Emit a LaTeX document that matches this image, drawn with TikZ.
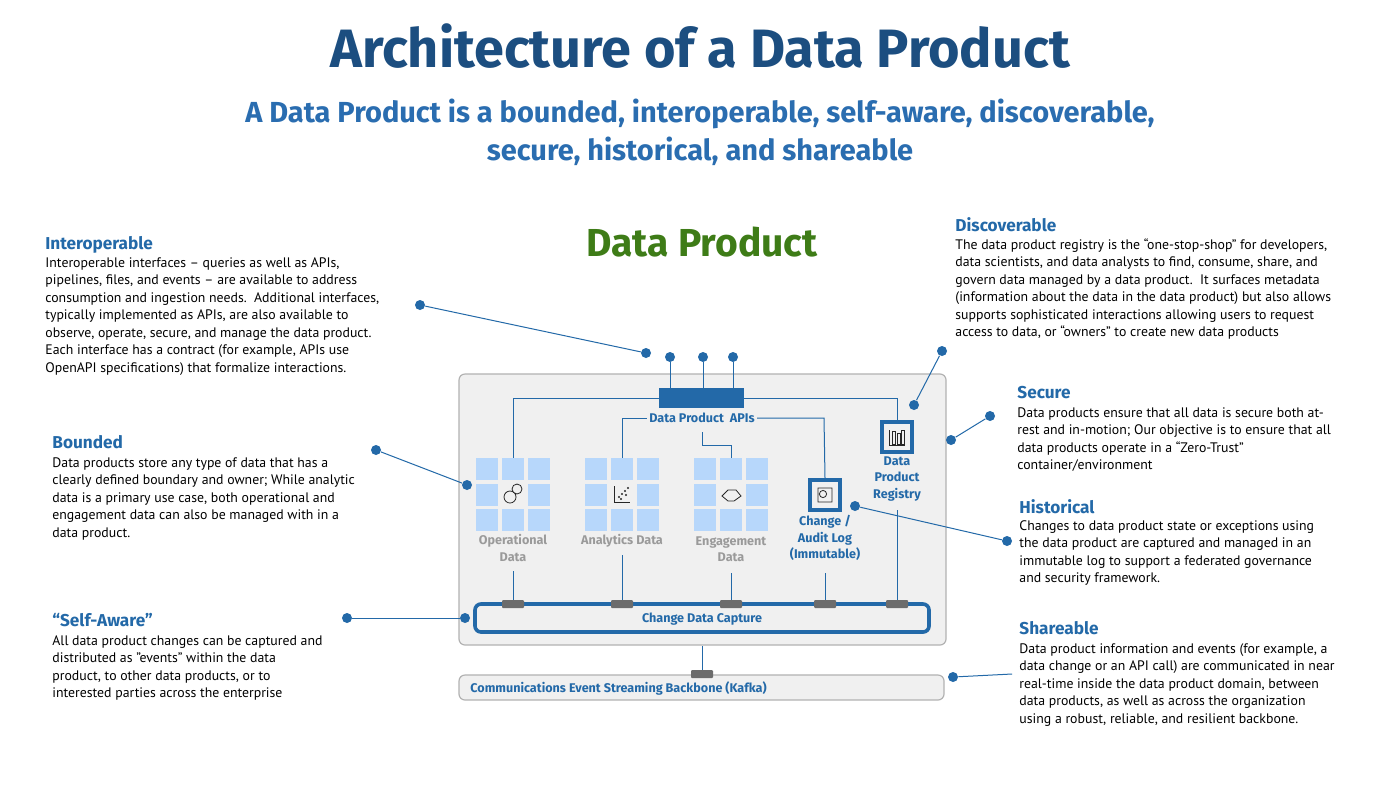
\documentclass[tikz,border=0pt]{standalone}
\usepackage{fontspec}
\setmainfont{PT Sans}
\newfontfamily\hd{Fira Sans}
\begin{document}
\definecolor{ttl}{HTML}{1C4E80}
\definecolor{sub}{HTML}{2A6DB0}
\definecolor{grn}{HTML}{3E7C17}
\definecolor{blu}{HTML}{2369A8}
\definecolor{cell}{HTML}{B7D7FB}
\definecolor{gtx}{HTML}{9A9A9A}
\begin{tikzpicture}[x=0.5pt,y=-0.5pt,
 body/.style={anchor=north west,align=left,font=\fontsize{6.9}{8.75}\selectfont,inner sep=0},
 head/.style={anchor=north west,font=\hd\bfseries\fontsize{8.6}{10}\selectfont,text=blu,inner sep=0},
 ln/.style={draw=blu,line width=0.5pt},
 dot/.style={circle,fill=blu,inner sep=0,minimum size=5pt},
 lbl/.style={font=\hd\bfseries\fontsize{6.3}{8.2}\selectfont,align=center,inner sep=1pt},
 conn/.style={fill=gray!85!black,rounded corners=0.5pt,minimum width=11pt,minimum height=4pt,inner sep=0}]
\useasboundingbox (0,0) rectangle (1400,788);
\fill[white] (0,0) rectangle (1400,788);
\node[font=\hd\bfseries\fontsize{27}{30}\selectfont,text=ttl] (t) at (700,46) {Architecture of a Data Product};
\node[font=\hd\bfseries\fontsize{14.5}{19}\selectfont,text=sub,align=center] (st) at (700,132) {A Data Product is a bounded, interoperable, self-aware, discoverable,\\secure, historical, and shareable};
\node[font=\hd\bfseries\fontsize{19.5}{22}\selectfont,text=grn] (dp) at (702,242) {Data Product};
% side texts
\node[head] (h1) at (45,236) {Interoperable};
\node[body] (b1) at (45,257) {Interoperable interfaces – queries as well as APIs,\\pipelines, files, and events – are available to address\\consumption and ingestion needs.\ \ Additional interfaces,\\typically implemented as APIs, are also available to\\observe, operate, secure, and manage the data product.\\Each interface has a contract (for example, APIs use\\OpenAPI specifications) that formalize interactions.};
\node[head] (h2) at (52,435) {Bounded};
\node[body] (b2) at (52,457) {Data products store any type of data that has a\\clearly defined boundary and owner; While analytic\\data is a primary use case, both operational and\\engagement data can also be managed with in a\\data product.};
\node[head] (h3) at (52,613) {“Self-Aware”};
\node[body] (b3) at (52,635) {All data product changes can be captured and\\distributed as ”events” within the data\\product, to other data products, or to\\interested parties across the enterprise};
\node[head] (h4) at (955,217) {Discoverable};
\node[body] (b4) at (955,238) {The data product registry is the “one-stop-shop” for developers,\\data scientists, and data analysts to find, consume, share, and\\govern data managed by a data product.\ \ It surfaces metadata\\(information about the data in the data product) but also allows\\supports sophisticated interactions allowing users to request\\access to data, or “owners” to create new data products};
\node[head] (h5) at (1017,386) {Secure};
\node[body] (b5) at (1017,407) {Data products ensure that all data is secure both at-\\rest and in-motion; Our objective is to ensure that all\\data products operate in a “Zero-Trust”\\container/environment};
\node[head] (h6) at (1019,499) {Historical};
\node[body] (b6) at (1019,520) {Changes to data product state or exceptions using\\the data product are captured and managed in an\\immutable log to support a federated governance\\and security framework.};
\node[head] (h7) at (1019,621) {Shareable};
\node[body] (b7) at (1019,643) {Data product information and events (for example, a\\data change or an API call) are communicated in near\\real-time inside the data product domain, between\\data products, as well as across the organization\\using a robust, reliable, and resilient backbone.};
% outer box
\draw[draw=gray!60,fill=gray!12,rounded corners=3pt,line width=0.6pt] (459,374) rectangle (946,645);
\node[draw=gray!60,fill=gray!12,rounded corners=3pt,line width=0.6pt,minimum width=242.5pt,minimum height=12.5pt,inner sep=0] (kafka) at (701.5,687.5) {};
\node[lbl,text=blu,anchor=west,font=\hd\bfseries\fontsize{6.3}{8}\selectfont] (kl) at (468,688) {Communications Event Streaming Backbone (Kafka)};
% API
\node[fill=blu,minimum width=42.5pt,minimum height=10pt,inner sep=0] (api) at (701.5,398) {};
\foreach \x/\n in {670/p1,703/p2,733/p3}{
 \node[dot] (\n) at (\x,357) {};
 \draw[ln] (\n) -- (\x,388);
}
\node[lbl,text=blu] (apil) at (702,418) {Data Product\ \ APIs};
% grids
\foreach \cx/\g in {513/g1,622/g2,731/g3}{
 \foreach \i in {-1,0,1}{\foreach \j in {-1,0,1}{
  \fill[cell] (\cx+\i*26-11,494.5+\j*25.5-11) rectangle (\cx+\i*26+11,494.5+\j*25.5+11);}}
 \coordinate (\g) at (\cx,494.5);
}
\fill[gray!12] (502,483) rectangle (524,506);
\fill[gray!12] (611,483) rectangle (633,506);
\fill[gray!12] (720,483) rectangle (742,506);
% icons
\draw[gray!30!black,line width=0.4pt] (510,497) circle (3pt) (517,489) circle (2.5pt);
\draw[gray!30!black,line width=0.5pt] (614,486)--(614,502)--(630,502);
\foreach \p in {(619,497),(622,494),(625,491),(628,488),(621,499),(626,495)} \fill[gray!30!black] \p circle (0.6pt);
\draw[gray!30!black,line width=0.4pt] (722,496)--(728,490)--(736,490)--(741,496)--(734,501)--(728,501)--cycle;
\node[lbl,text=gtx] (l1) at (513,548) {Operational\\Data};
\node[lbl,text=gtx] (l2) at (622,541) {Analytics Data};
\node[lbl,text=gtx] (l3) at (731,549) {Engagement\\Data};
% change log and registry
\node[draw=blu,line width=1.6pt,fill=gray!12,minimum size=15pt,inner sep=0] (cl) at (825,495) {};
\draw[gray!30!black,line width=0.4pt] (818,488) rectangle (832,502) (823,494) circle (1.8pt);
\node[lbl,text=blu] (cll) at (825,538) {Change /\\Audit Log\\(Immutable)};
\node[draw=blu,line width=1.6pt,fill=gray!12,minimum size=15pt,inner sep=0] (rg) at (897,437) {};
\draw[gray!30!black,line width=0.4pt] (889,430)--(889,445)--(905,445) (892,431) rectangle (895,444) (897,433) rectangle (900,444) (901,430) rectangle (904,444);
\node[lbl,text=blu] (rgl) at (897,479) {Data\\Product\\Registry};
% API wiring
\draw[ln] (api.west) -- (513,398) -- (513,458);
\draw[ln] (api.east) -- (897,398) -- (rg.north);
\draw[ln] (apil.west) -- (622,418) -- (622,458);
\draw[ln] (apil.east) -- (824,418) -- (cl.north);
\draw[ln] (702,432) -- (702,445) -- (731,445) -- (731,458);
% CDC
\node[draw=blu,line width=1.8pt,rounded corners=3pt,minimum width=227pt,minimum height=14pt,inner sep=0] (cdc) at (702,618) {};
\node[lbl,text=blu] (cdcl) at (702,619) {Change Data Capture};
\foreach \x/\n/\y in {513/c1/571,622/c2/555,731/c3/573,825/c4/573,897/c5/510}{
 \draw[ln] (\x,\y) -- (\x,604);
 \node[conn] (\n) at (\x,604) {};
}
\node[conn] (c6) at (702,674) {};
\draw[ln] (702,646) -- (c6);
% callouts
\node[dot] (d1) at (420,305) {}; \node[dot] (d1b) at (646,353) {}; \draw[ln] (d1) -- (d1b);
\node[dot] (d2) at (376,450) {}; \node[dot] (d2b) at (467,485) {}; \draw[ln] (d2) -- (d2b);
\node[dot] (d3) at (347,618) {}; \node[dot] (d3b) at (465,618) {}; \draw[ln] (d3) -- (d3b);
\node[dot] (d4) at (942,351) {}; \node[dot] (d4b) at (914,405) {}; \draw[ln] (d4) -- (d4b);
\node[dot] (d5) at (990,416) {}; \node[dot] (d5b) at (951,440) {}; \draw[ln] (d5) -- (d5b);
\node[dot] (d6) at (855,506) {}; \node[dot] (d6b) at (1007,541) {}; \draw[ln] (d6) -- (d6b);
\node[dot] (d7) at (953,677) {}; \coordinate (d7b) at (1012,674); \draw[ln] (d7) -- (d7b);
\end{tikzpicture}
\end{document}
